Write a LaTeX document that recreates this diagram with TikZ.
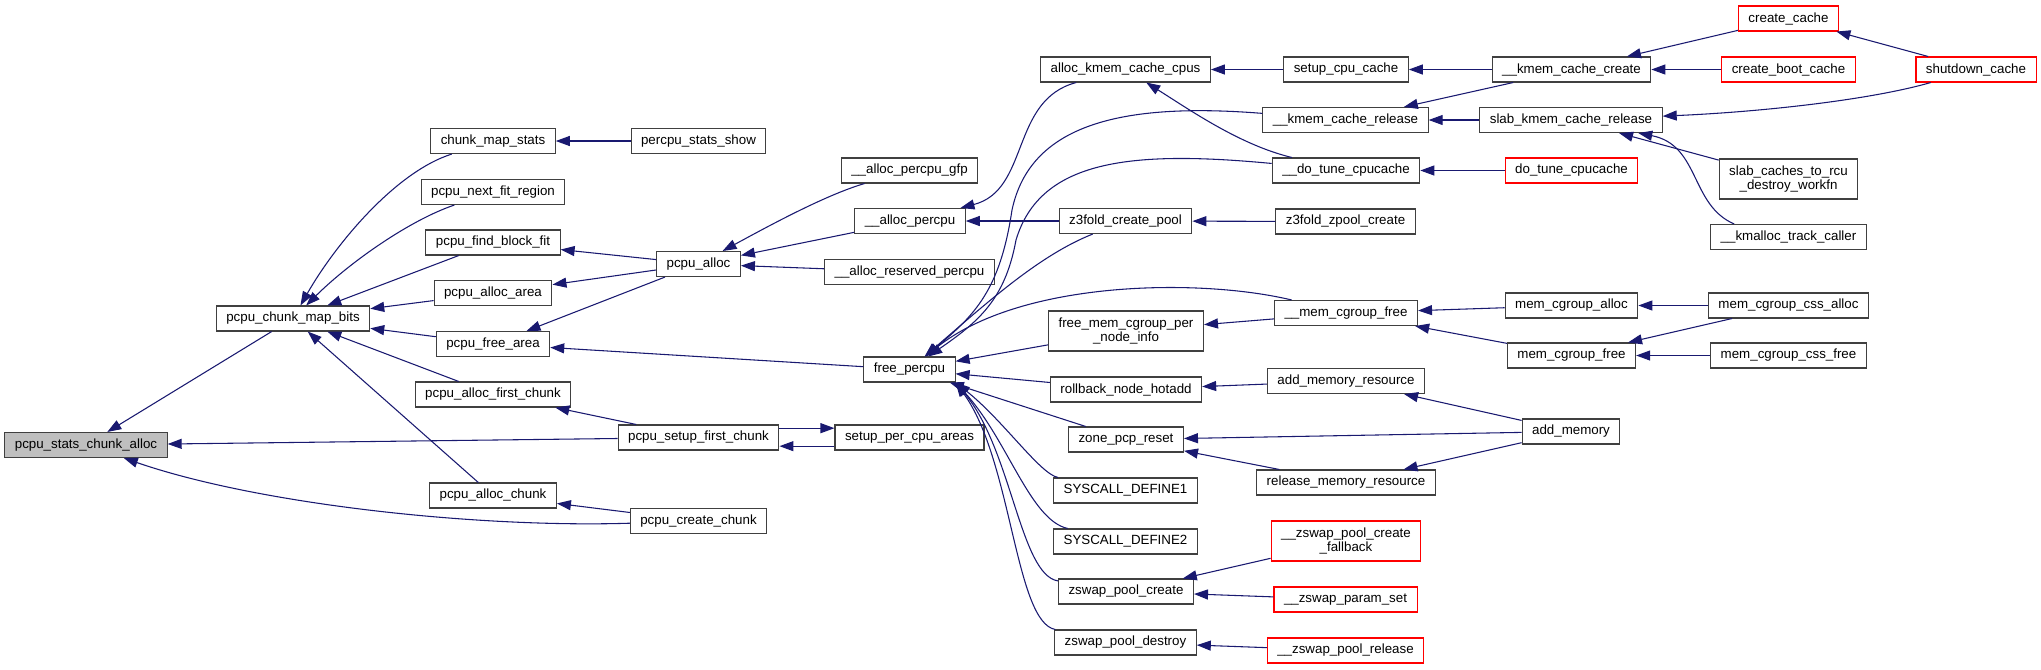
\documentclass[tikz,border=0pt]{standalone}
\usepackage{fontspec}
\setmainfont{Liberation Sans}
\usetikzlibrary{arrows.meta}
\definecolor{edgeblue}{HTML}{191970}
\definecolor{rootgray}{HTML}{BFBFBF}
\definecolor{boxline}{HTML}{404040}

\begin{document}
\begin{tikzpicture}[x=0.75pt, y=-0.75pt, >={Triangle[length=10.5pt,width=7.5pt]},
    fn/.style={draw=boxline, line width=0.8pt, fill=white, minimum height=18.75pt,
        inner xsep=7.5pt, inner ysep=2pt, font=\fontsize{10}{11}\selectfont, align=center},
    root/.style={fn, fill=rootgray},
    ext/.style={fn, draw=red},
    call/.style={->, draw=edgeblue, line width=0.8pt}]
    \useasboundingbox (0,0) rectangle (2041,669);

    % Root function
    \node[root] (stats) at (86,445) {pcpu\_stats\_chunk\_alloc};

    % Direct callers
    \node[fn] (mapbits) at (293,318.5) {pcpu\_chunk\_map\_bits};
    \node[fn] (chunkstats) at (493,141) {chunk\_map\_stats};
    \node[fn] (nextfit) at (493,192) {pcpu\_next\_fit\_region};
    \node[fn] (findblock) at (493,242.5) {pcpu\_find\_block\_fit};
    \node[fn] (allocarea) at (493,293) {pcpu\_alloc\_area};
    \node[fn] (freearea) at (493,344) {pcpu\_free\_area};
    \node[fn] (allocfirst) at (493,394.5) {pcpu\_alloc\_first\_chunk};
    \node[fn] (allocchunk) at (493,495.5) {pcpu\_alloc\_chunk};

    \node[fn] (statsshow) at (698.5,141) {percpu\_stats\_show};
    \node[fn] (pcpualloc) at (698.5,264) {pcpu\_alloc};
    \node[fn] (setupfirst) at (698.5,437.5) {pcpu\_setup\_first\_chunk};
    \node[fn] (createchunk) at (698.5,521) {pcpu\_create\_chunk};

    \node[fn] (allocgfp) at (909.5,170.5) {\_\_alloc\_percpu\_gfp};
    \node[fn] (allocpercpu) at (910,221) {\_\_alloc\_percpu};
    \node[fn] (allocreserved) at (909.5,272) {\_\_alloc\_reserved\_percpu};
    \node[fn] (freepercpu) at (909.5,369.5) {free\_percpu};
    \node[fn] (setupareas) at (909.5,437.5) {setup\_per\_cpu\_areas};

    % Callers of free_percpu and __alloc_percpu
    \node[fn] (allockmem) at (1125.5,69.5) {alloc\_kmem\_cache\_cpus};
    \node[fn] (z3create) at (1125.5,221) {z3fold\_create\_pool};
    \node[fn, minimum height=30pt] (freememcg) at (1126,331) {free\_mem\_cgroup\_per\\\_node\_info};
    \node[fn] (rollback) at (1126,389.5) {rollback\_node\_hotadd};
    \node[fn] (zonepcp) at (1126,439.5) {zone\_pcp\_reset};
    \node[fn] (sysone) at (1125.5,490.5) {SYSCALL\_DEFINE1};
    \node[fn] (systwo) at (1125.5,541.5) {SYSCALL\_DEFINE2};
    \node[fn] (zswapcreate) at (1126,591.5) {zswap\_pool\_create};
    \node[fn] (zswapdestroy) at (1125.5,642.5) {zswap\_pool\_destroy};

    \node[fn] (setupcache) at (1346,69.5) {setup\_cpu\_cache};
    \node[fn] (kmemrelease) at (1345.5,120) {\_\_kmem\_cache\_release};
    \node[fn] (dotune) at (1346,170.5) {\_\_do\_tune\_cpucache};
    \node[fn] (z3zpool) at (1345.5,221.5) {z3fold\_zpool\_create};
    \node[fn] (memcgfree) at (1346,313) {\_\_mem\_cgroup\_free};
    \node[fn] (addmemres) at (1346,381) {add\_memory\_resource};
    \node[fn] (releasemem) at (1346,482.5) {release\_memory\_resource};
    \node[ext, minimum height=30pt] (fallback) at (1346,541) {\_\_zswap\_pool\_create\\\_fallback};
    \node[ext] (paramset) at (1345.5,599.5) {\_\_zswap\_param\_set};
    \node[ext] (poolrelease) at (1345.5,650.5) {\_\_zswap\_pool\_release};

    \node[fn] (kmemcreate) at (1571.5,69.5) {\_\_kmem\_cache\_create};
    \node[fn] (slabrelease) at (1571,120) {slab\_kmem\_cache\_release};
    \node[ext] (dotuneext) at (1571.5,170.5) {do\_tune\_cpucache};
    \node[fn] (cgalloc) at (1571.5,305.5) {mem\_cgroup\_alloc};
    \node[fn] (cgfree) at (1571.5,355.5) {mem\_cgroup\_free};
    \node[fn] (addmemory) at (1571,431.5) {add\_memory};

    \node[ext] (createcache) at (1788.5,18.5) {create\_cache};
    \node[ext] (createboot) at (1788.5,69.5) {create\_boot\_cache};
    \node[fn, minimum height=30pt] (rcuworkfn) at (1788.5,179) {slab\_caches\_to\_rcu\\\_destroy\_workfn};
    \node[fn] (kmalloctrack) at (1788.5,237) {\_\_kmalloc\_track\_caller};
    \node[fn] (cssalloc) at (1788.5,305.5) {mem\_cgroup\_css\_alloc};
    \node[fn] (cssfree) at (1788.5,355.5) {mem\_cgroup\_css\_free};

    \node[ext] (shutdown) at (1976,69.5) {shutdown\_cache};

    % Calls into pcpu_stats_chunk_alloc
    \draw[call] (mapbits) -- (stats);
    \draw[call] (setupfirst) -- (stats);
    \draw[call] (createchunk) .. controls (480,528) and (260,505) .. (stats);

    % Calls into pcpu_chunk_map_bits
    \draw[call] (chunkstats) .. controls (395,172) and (335,245) .. (mapbits);
    \draw[call] (nextfit) .. controls (410,220) and (350,262) .. (mapbits);
    \draw[call] (findblock) -- (mapbits);
    \draw[call] (allocarea) -- (mapbits);
    \draw[call] (freearea) -- (mapbits);
    \draw[call] (allocfirst) -- (mapbits);
    \draw[call] (allocchunk) -- (mapbits);

    \draw[call] (statsshow) -- (chunkstats);
    \draw[call] (pcpualloc) -- (findblock);
    \draw[call] (pcpualloc) -- (allocarea);
    \draw[call] (pcpualloc) -- (freearea);
    \draw[call] (freepercpu) -- (freearea);
    \draw[call] (setupfirst) -- (allocfirst);
    \draw[call] (createchunk) -- (allocchunk);
    \draw[call] ([yshift=7pt]setupfirst.east) -- ([yshift=7pt]setupareas.west);
    \draw[call] ([yshift=-6.5pt]setupareas.west) -- ([yshift=-6.5pt]setupfirst.east);

    % Calls into pcpu_alloc
    \draw[call] (allocgfp) .. controls (825,195) and (765,228) .. (pcpualloc);
    \draw[call] (allocpercpu) -- (pcpualloc);
    \draw[call] (allocreserved) -- (pcpualloc);
    \draw[call] (allockmem) .. controls (1010,100) and (1030,190) .. (allocpercpu);
    \draw[call] (z3create) -- (allocpercpu);

    % Calls into free_percpu
    \draw[call] (kmemrelease) .. controls (1120,102) and (1030,125) .. (1012,210)
        .. controls (1000,290) and (975,315) .. (freepercpu);
    \draw[call] (dotune) .. controls (1130,150) and (1040,160) .. (1016,240)
        .. controls (1005,300) and (978,322) .. (freepercpu);
    \draw[call] (z3create) .. controls (1040,255) and (990,300) .. (freepercpu);
    \draw[call] (memcgfree) .. controls (1200,278) and (1020,280) .. (freepercpu);
    \draw[call] (freememcg) -- (freepercpu);
    \draw[call] (rollback) -- (freepercpu);
    \draw[call] (zonepcp) -- (freepercpu);
    \draw[call] (sysone) .. controls (1040,474) and (1003,420) .. (freepercpu.south east);
    \draw[call] (systwo) .. controls (1030,520) and (1008,440) .. (freepercpu.south east);
    \draw[call] (zswapcreate) .. controls (1020,575) and (1012,450) .. (freepercpu.south east);
    \draw[call] (zswapdestroy) .. controls (1015,622) and (1012,460) .. (freepercpu.south east);

    % Slab side
    \draw[call] (setupcache) -- (allockmem);
    \draw[call] (dotune) .. controls (1240,145) and (1190,110) .. (allockmem);
    \draw[call] (kmemcreate) -- (setupcache);
    \draw[call] (kmemcreate) -- (kmemrelease);
    \draw[call] (slabrelease) -- (kmemrelease);
    \draw[call] (dotuneext) -- (dotune);
    \draw[call] (z3zpool) -- (z3create);
    \draw[call] (createcache) -- (kmemcreate);
    \draw[call] (createboot) -- (kmemcreate);
    \draw[call] (shutdown) -- (createcache);
    \draw[call] (shutdown) .. controls (1870,100) and (1760,112) .. (slabrelease);
    \draw[call] (rcuworkfn) -- (slabrelease);
    \draw[call] ([xshift=18pt]kmalloctrack.north west) .. controls (1690,205) and (1700,145) .. (slabrelease);

    % Memory cgroup
    \draw[call] (memcgfree) -- (freememcg);
    \draw[call] (cgalloc) -- (memcgfree);
    \draw[call] (cgfree) -- (memcgfree);
    \draw[call] (cssalloc) -- (cgalloc);
    \draw[call] (cssalloc) -- (cgfree);
    \draw[call] (cssfree) -- (cgfree);

    % Memory hotplug
    \draw[call] (addmemres) -- (rollback);
    \draw[call] (addmemory) -- (addmemres);
    \draw[call] (addmemory) -- (zonepcp);
    \draw[call] (addmemory) -- (releasemem);
    \draw[call] (releasemem) -- (zonepcp);

    % zswap
    \draw[call] (fallback) -- (zswapcreate);
    \draw[call] (paramset) -- (zswapcreate);
    \draw[call] (poolrelease) -- (zswapdestroy);
\end{tikzpicture}
\end{document}
